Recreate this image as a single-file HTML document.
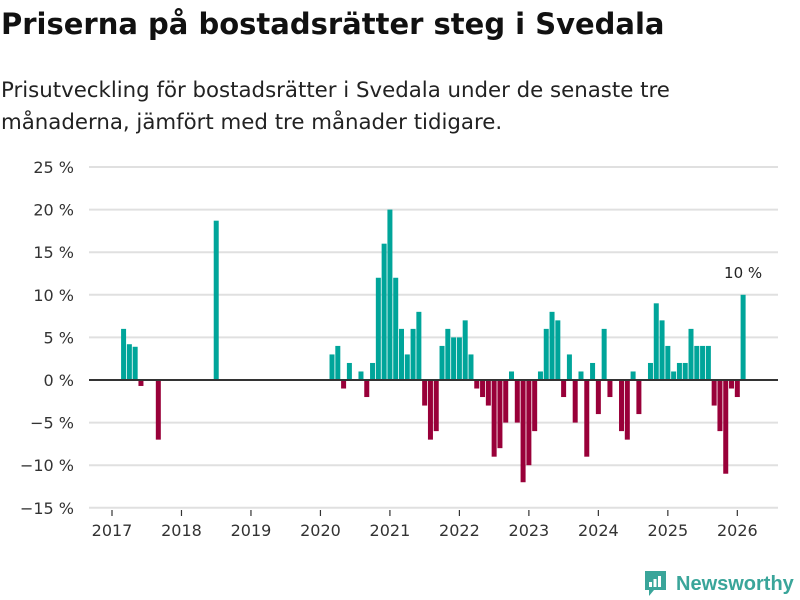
<!DOCTYPE html>
<html><head><meta charset="utf-8">
<style>
body{margin:0;width:800px;height:600px;background:#fff;font-family:"DejaVu Sans","Liberation Sans",sans-serif;overflow:hidden;position:relative}
h1{position:absolute;left:1px;top:7px;margin:0;font-size:29px;font-weight:bold;color:#111;white-space:nowrap}
.sub{position:absolute;left:1px;top:75px;margin:0;font-size:21.3px;line-height:32px;color:#222;width:700px}
svg{position:absolute;left:0;top:0}
</style></head><body>
<h1>Priserna på bostadsrätter steg i Svedala</h1>
<p class="sub">Prisutveckling för bostadsrätter i Svedala under de senaste tre månaderna, jämfört med tre månader tidigare.</p>
<svg id="chart" width="800" height="600"></svg>
<div style="position:absolute;left:644px;top:569px;height:30px;display:flex;align-items:center">
<svg width="24" height="30" style="position:static"><path d="M1 2h21v19H10l-5 6v-6H1z" fill="#3aa59a"/><rect x="5" y="13" width="3" height="5" fill="#fff"/><rect x="9.5" y="10" width="3" height="8" fill="#fff"/><rect x="14" y="7" width="3" height="11" fill="#fff"/></svg>
<span style="margin-left:8px;font-size:20px;font-weight:bold;color:#3aa59a;font-family:'Liberation Sans',sans-serif">Newsworthy</span></div>
<script>
const yTicks=[25,20,15,10,5,0,-5,-10,-15];
const yearLabels=["2017","2018","2019","2020","2021","2022","2023","2024","2025","2026"];
// monthly values from Jan 2017 (index 0)
const monthIndex=[2,3,4,5,8,18,38,39,40,41,43,44,45,46,47,48,49,50,51,52,53,54,55,56,57,58,59,60,61,62,63,64,65,66,67,68,69,70,71,72,73,74,75,76,77,78,79,80,81,82,83,84,85,86,88,89,90,91,93,94,95,96,97,98,99,100,101,102,103,104,105,106,107,108,109];
const values=[6,4.2,3.9,-0.7,-7,18.7,3,4,-1,2,1,-2,2,12,16,20,12,6,3,6,8,-3,-7,-6,4,6,5,5,7,3,-1,-2,-3,-9,-8,-5,1,-5,-12,-10,-6,1,6,8,7,-2,3,-5,1,-9,2,-4,6,-2,-6,-7,1,-4,2,9,7,4,1,2,2,6,4,4,4,-3,-6,-11,-1,-2,10];
const NS="http://www.w3.org/2000/svg";
const svg=document.getElementById('chart');
const FF='DejaVu Sans, Liberation Sans, sans-serif';
const x=m=>112+m*5.79;
const y=v=>380-v*8.52;
function mk(t,a){const e=document.createElementNS(NS,t);for(const k in a)e.setAttribute(k,a[k]);svg.appendChild(e);return e;}
yTicks.forEach(v=>{
 if(v!==0){const g=mk('line',{x1:89,x2:778,y1:y(v),y2:y(v),stroke:'#e0e0e0','stroke-width':2});
 
 }
 const t=mk('text',{x:74,y:y(v)+6,'text-anchor':'end','font-size':16,fill:'#333','font-family':FF});
 t.textContent=(v<0?'\u2212'+(-v):v)+' %';
 
 
});
yearLabels.forEach((l,i)=>{
 const xx=x(i*12);
 const tk=mk('line',{x1:xx,x2:xx,y1:510,y2:516,stroke:'#333','stroke-width':1.2});
 
 
 const t=mk('text',{x:xx,y:536,'text-anchor':'middle','font-size':16,fill:'#333','font-family':FF});
 t.textContent=l;
 
 
});
monthIndex.forEach((m,i)=>{
 const v=values[i];if(v==null)return;
 const b=mk('rect',{x:x(m)-2.5,width:5,y:Math.min(y(v),y(0)),height:Math.abs(y(v)-y(0)),fill:v>=0?'#00a59a':'#990039'});
 
 
});
const z=mk('line',{x1:89,x2:778,y1:y(0),y2:y(0),stroke:'#333','stroke-width':2});


const li=values.length-1;
const lab=mk('text',{x:x(monthIndex[li]),y:y(values[li])-17,'text-anchor':'middle','font-size':15,fill:'#222','font-family':FF});
lab.textContent=values[li]+' %';


</script>
</body></html>
